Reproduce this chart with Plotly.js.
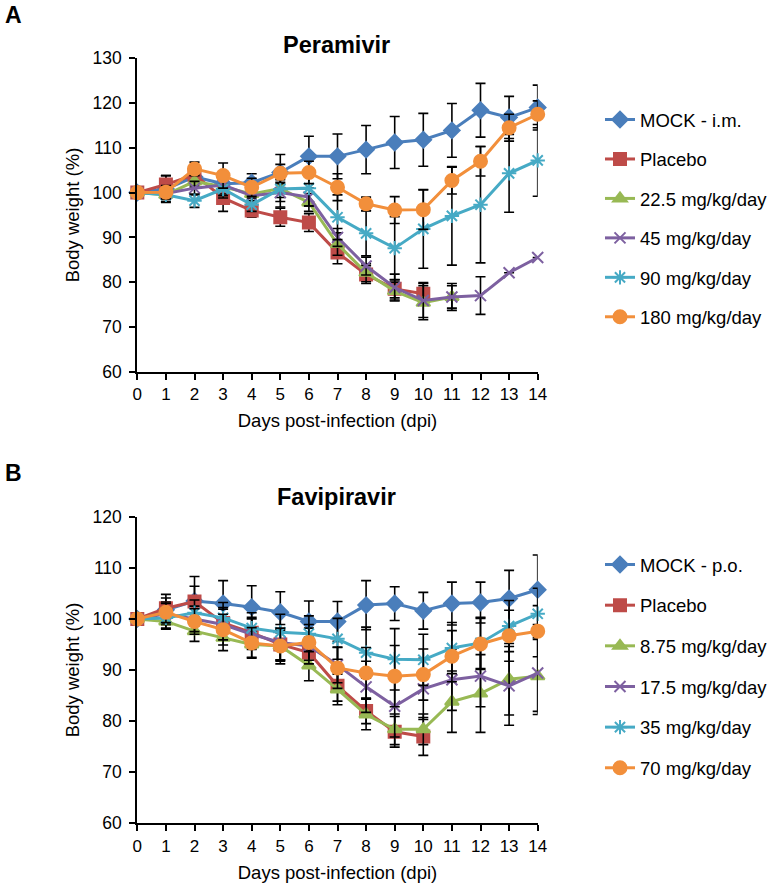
<!DOCTYPE html>
<html>
<head>
<meta charset="utf-8">
<script src="https://cdn.plot.ly/plotly-3.0.1.min.js"></script>
<style>html,body{margin:0;padding:0;background:#fff;}#chart{width:777px;height:891px;}</style>
</head>
<body>
<div id="chart"></div>
<script>
// ---- Data ----
const days = [0,1,2,3,4,5,6,7,8,9,10,11,12,13,14];

// Panel A: Peramivir
const perNames = ["MOCK - i.m.", "Placebo", "22.5 mg/kg/day", "45 mg/kg/day", "90 mg/kg/day", "180 mg/kg/day"];
const perMock  = [100, 100.8, 103.5, 102, 102.2, 104.5, 108.1, 108.1, 109.6, 111.2, 111.8, 113.9, 118.4, 116.8, 119];
const perPlac  = [100, 101.8, 104, 98.8, 96, 94.5, 93.3, 86.6, 81.7, 78.5, 77.4];
const per225   = [100, 99.5, 102.5, 101.3, 99.7, 100.9, 97.8, 88.5, 82.1, 78, 75.4, 76.7];
const per45    = [100, 99.8, 101, 101.7, 99.3, 100, 99, 90, 83.6, 78.8, 75.9, 76.7, 77, 82.1, 85.5];
const per90    = [100, 99.5, 98.2, 100.8, 97.3, 100.8, 101, 94.5, 90.9, 87.6, 91.9, 94.8, 97.3, 104.3, 107.2];
const per180   = [100, 100.1, 105.3, 103.8, 101.2, 104.3, 104.5, 101.2, 97.5, 96.1, 96.2, 102.7, 107, 114.5, 117.5];
const perMockE = [0, 3, 2, 2.5, 2, 4, 4.5, 5, 5.4, 5.8, 5.9, 6, 6, 4.7, 5];
const perPlacE = [0, 2, 1.5, 3, 1.5, 2, 2, 2.5, 2, 2, 2.5];
const per225E  = [0, 1, 1.5, 2, 1.5, 2, 2, 2.5, 2, 2, 3.8, 2.5];
const per45E   = [0, 1, 1.5, 2, 1.5, 2, 2, 2, 2, 3, 3.8, 3, 4.2, 0, 0];
const per90E   = [0, 1.5, 1.5, 2, 1.5, 4, 4, 5, 5, 7, 8.8, 11, 13, 8.7, 8];
const per180E  = [0, 1.5, 1.5, 2.8, 2, 2, 2.5, 3, 1.5, 3, 4.4, 3, 3.3, 3, 3];

// Panel B: Favipiravir
const favNames = ["MOCK - p.o.", "Placebo", "8.75 mg/kg/day", "17.5 mg/kg/day", "35 mg/kg/day", "70 mg/kg/day"];
const favMock  = [100, 101.8, 103.5, 103, 102.3, 101.3, 99.5, 99.5, 102.7, 103, 101.6, 103, 103.2, 104, 105.7];
const favPlac  = [100, 102.1, 103.4, 99.2, 97.3, 95, 93.4, 86.9, 82, 77.9, 77];
const fav875   = [100, 99.5, 97.6, 96.3, 95, 94.7, 90.9, 86.2, 81.3, 78.4, 78.4, 83.8, 85.4, 88.2, 88.8];
const fav175   = [100, 101, 100, 98.9, 97, 95.4, 94.7, 91, 86.7, 82.9, 86.3, 88.1, 88.8, 86.9, 89.4];
const fav35    = [100, 100.2, 101.2, 100.2, 98.2, 97.4, 97.1, 96.1, 93.4, 92.1, 92, 94.3, 95.3, 98.6, 101];
const fav70    = [100, 101.3, 99.5, 97.9, 95.3, 94.7, 95.4, 90.4, 89.4, 88.8, 89.1, 92.7, 95.1, 96.7, 97.6];
const favMockE = [0, 3, 4.8, 4.5, 4.2, 4, 4, 3.9, 4.8, 3.3, 3.6, 4.2, 4, 5.5, 6.8];
const favPlacE = [0, 2, 3, 3, 3, 3, 3, 3, 2.5, 3, 3.7];
const fav875E  = [0, 1.5, 2, 2.5, 2.5, 3, 3, 3, 3, 3, 3, 6, 7.6, 7, 7.5];
const fav175E  = [0, 2, 2.5, 3, 3, 3.5, 3.5, 3.5, 5, 6, 6, 6, 6, 7.7, 7.5];
const fav35E   = [0, 2, 2.5, 3, 3, 3.5, 3.5, 4, 5, 6, 5, 5, 5, 5, 5];
const fav70E   = [0, 2, 2.5, 3, 3, 3.5, 3.5, 4, 5, 6, 5, 5, 5, 5, 5];

// ---- Styles ----
const colors = ["#4A7EBB", "#BE4B48", "#98B954", "#7D60A0", "#46AAC5", "#F28F3B"];
const symbols = ["diamond", "square", "triangle-up", "x-thin-open", "asterisk-open", "circle"];
const sizes = [12, 12, 12, 11, 12, 13];

function mk(name, y, err, i, xa, ya, legend) {
  return {
    type: "scatter", mode: "lines+markers", name: name,
    x: days.slice(0, y.length), y: y,
    xaxis: xa, yaxis: ya, legend: legend, legendgroup: legend + i,
    cliponaxis: false,
    line: {color: colors[i], width: 3},
    marker: {symbol: symbols[i], size: sizes[i], color: colors[i], line: {color: colors[i], width: 2}},
    error_y: {type: "data", array: err, visible: true, color: "#000", thickness: 1.6, width: 5}
  };
}

const perY = [perMock, perPlac, per225, per45, per90, per180];
const perE = [perMockE, perPlacE, per225E, per45E, per90E, per180E];
const favY = [favMock, favPlac, fav875, fav175, fav35, fav70];
const favE = [favMockE, favPlacE, fav875E, fav175E, fav35E, fav70E];

const traces = [];
perNames.forEach((n, i) => traces.push(mk(n, perY[i], perE[i], i, "x", "y", "legend")));
favNames.forEach((n, i) => traces.push(mk(n, favY[i], favE[i], i, "x2", "y2", "legend2")));

const FONT = "Liberation Sans, Arial, sans-serif";
const xCommon = {
  range: [0, 14], dtick: 1, tick0: 0, showgrid: false, zeroline: false,
  showline: true, linecolor: "#000", linewidth: 2,
  ticks: "outside", ticklen: 6, tickwidth: 2, tickcolor: "#000",
  tickfont: {family: FONT, size: 17, color: "#000"},
  title: {text: "Days post-infection (dpi)", font: {family: FONT, size: 18.5, color: "#000"}, standoff: 11},
  domain: [137.3/777, 537.7/777], fixedrange: true
};
const yCommon = {
  dtick: 10, showgrid: false, zeroline: false,
  showline: true, linecolor: "#000", linewidth: 2,
  ticks: "outside", ticklen: 6, tickwidth: 2, tickcolor: "#000",
  ticklabelstandoff: 4,
  tickfont: {family: FONT, size: 17.5, color: "#000"},
  title: {text: "Body weight (%)", font: {family: FONT, size: 18.5, color: "#000"}, standoff: 8},
  fixedrange: true
};

const legendCommon = {
  font: {family: FONT, size: 18.5, color: "#000"},
  bgcolor: "rgba(0,0,0,0)", borderwidth: 0,
  xanchor: "left", yanchor: "top", x: 600/777,
  itemwidth: 30
};

const layout = {
  width: 777, height: 891,
  margin: {l: 0, r: 0, t: 0, b: 0},
  paper_bgcolor: "#fff", plot_bgcolor: "#fff",
  showlegend: true,
  xaxis: Object.assign({}, xCommon, {anchor: "y"}),
  yaxis: Object.assign({}, yCommon, {range: [60, 130], domain: [1 - 371.7/891, 1 - 58.3/891], anchor: "x"}),
  xaxis2: Object.assign({}, xCommon, {anchor: "y2"}),
  yaxis2: Object.assign({}, yCommon, {range: [60, 120], domain: [1 - 823.3/891, 1 - 516.7/891], anchor: "x2"}),
  legend: Object.assign({}, legendCommon, {y: 1 - 101/891, tracegroupgap: 12.4}),
  legend2: Object.assign({}, legendCommon, {y: 1 - 546/891, tracegroupgap: 13.6}),
  annotations: [
    {text: "<b>Peramivir</b>", xref: "paper", yref: "paper", x: 336/777, y: 1 - 45/891, xanchor: "center", yanchor: "middle", showarrow: false, font: {family: FONT, size: 23.5, color: "#000"}},
    {text: "<b>Favipiravir</b>", xref: "paper", yref: "paper", x: 336/777, y: 1 - 497/891, xanchor: "center", yanchor: "middle", showarrow: false, font: {family: FONT, size: 23.5, color: "#000"}},
    {text: "<b>A</b>", xref: "paper", yref: "paper", x: 3/777, y: 1 - 15/891, xanchor: "left", yanchor: "middle", showarrow: false, font: {family: FONT, size: 23, color: "#000"}},
    {text: "<b>B</b>", xref: "paper", yref: "paper", x: 3/777, y: 1 - 473/891, xanchor: "left", yanchor: "middle", showarrow: false, font: {family: FONT, size: 23, color: "#000"}}
  ]
};

Plotly.newPlot("chart", traces, layout, {staticPlot: true, displayModeBar: false});
</script>
</body>
</html>
